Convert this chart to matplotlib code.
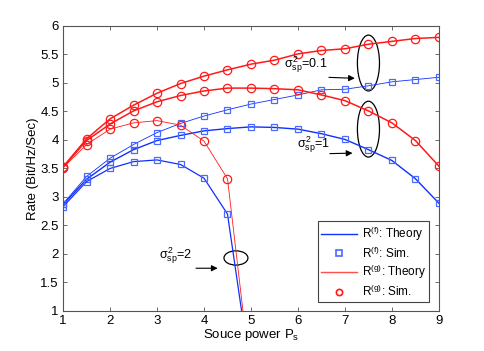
import numpy as np
import matplotlib
matplotlib.use('Agg')
import matplotlib.pyplot as plt
from matplotlib.patches import Ellipse

plt.rcParams['font.family'] = ['Liberation Sans', 'DejaVu Sans']
plt.rcParams['mathtext.fontset'] = 'custom'
plt.rcParams['mathtext.rm'] = 'Liberation Sans'
plt.rcParams['mathtext.it'] = 'Liberation Sans'

# source power axis
ps = [1, 1.5, 2, 2.5, 3, 3.5, 4, 4.5, 5, 5.5, 6, 6.5, 7, 7.5, 8, 8.5, 9]
ps_short = [1, 1.5, 2, 2.5, 3, 3.5, 4, 4.5, 5]

# R^(g) curves (red)
rg_01 = [3.53, 4.02, 4.37, 4.61, 4.82, 4.99, 5.12, 5.23, 5.33, 5.40, 5.51,
         5.57, 5.60, 5.68, 5.73, 5.78, 5.80]
rg_1 = [3.52, 3.99, 4.28, 4.51, 4.67, 4.78, 4.86, 4.91, 4.91, 4.90, 4.88,
        4.79, 4.69, 4.51, 4.30, 3.99, 3.54]
rg_2 = [3.51, 3.92, 4.19, 4.30, 4.34, 4.26, 3.98, 3.32, -0.2]

# R^(f) curves (blue)
rf_01 = [2.88, 3.36, 3.68, 3.92, 4.13, 4.29, 4.42, 4.53, 4.63, 4.71, 4.79,
         4.88, 4.89, 4.95, 5.02, 5.06, 5.10]
rf_1 = [2.87, 3.31, 3.61, 3.83, 3.99, 4.08, 4.16, 4.20, 4.23, 4.22, 4.19,
        4.11, 4.01, 3.83, 3.64, 3.32, 2.89]
rf_2 = [2.83, 3.27, 3.50, 3.62, 3.65, 3.57, 3.33, 2.70, -0.13]

blue = '#1030ff'
sq = '#4a6aff'
red = '#ff1a1a'

fig = plt.figure(figsize=(4.85, 3.51), dpi=100)
ax = fig.add_axes([0.13, 0.114, 0.775, 0.812])

for x, y, lw in [(ps, rf_01, 0.6), (ps, rf_1, 1.0), (ps_short, rf_2, 0.9)]:
    ax.plot(x, y, color=blue, lw=lw)
    ax.plot(x, y, 's', ms=4.5, mfc='none', mec=sq, mew=0.9)
for x, y, lw in [(ps, rg_01, 1.1), (ps, rg_1, 1.1), (ps_short, rg_2, 0.6)]:
    ax.plot(x, y, color=red, lw=lw)
    ax.plot(x, y, 'o', ms=6, mfc='none', mec=red, mew=0.9)

# legend proxies
ax.plot([], [], color=blue, lw=1.0, label=r'R$^{(f)}$: Theory')
ax.plot([], [], 's', ms=4, mfc='none', mec=sq, mew=1.2, label=r'R$^{(f)}$: Sim.')
ax.plot([], [], color='#ff5050', lw=1.0, label=r'R$^{(g)}$: Theory')
ax.plot([], [], 'o', ms=4.5, mfc='none', mec=red, mew=1.2, label=r'R$^{(g)}$: Sim.')
handles, labels = ax.get_legend_handles_labels()
leg = ax.legend(handles[-4:], labels[-4:], loc='lower right', fontsize=8.5,
                fancybox=False, edgecolor='#444444', framealpha=1,
                handlelength=3.0, handletextpad=0.4, borderpad=0.3,
                labelspacing=0.2, bbox_to_anchor=(0.99, 0.01))
leg.get_frame().set_linewidth(0.8)

# ellipses and labels
for cx, cy, w, h in [(7.5, 5.35, 0.47, 0.98), (7.5, 4.19, 0.47, 0.98),
                     (4.68, 1.93, 0.51, 0.25)]:
    ax.add_patch(Ellipse((cx, cy), w, h, fill=False, ec='black', lw=0.9))

arr = dict(arrowstyle='-|>', color='black', lw=0.8, mutation_scale=9)
ax.annotate('', xy=(7.27, 5.08), xytext=(6.6, 5.10), arrowprops=arr)
ax.annotate('', xy=(7.22, 3.77), xytext=(6.62, 3.76), arrowprops=arr)
ax.annotate('', xy=(4.35, 1.75), xytext=(3.77, 1.75), arrowprops=arr)
ax.text(5.7, 5.27, r'$\sigma^2_{sp}$=0.1', fontsize=9)
ax.text(5.98, 3.87, r'$\sigma^2_{sp}$=1', fontsize=9)
ax.text(3.04, 1.92, r'$\sigma^2_{sp}$=2', fontsize=9)

ax.set_xlim(1, 9)
ax.set_ylim(1, 6)
ax.set_xticks(range(1, 10))
ax.set_yticks([1, 1.5, 2, 2.5, 3, 3.5, 4, 4.5, 5, 5.5, 6])
ax.set_yticklabels(['1', '1.5', '2', '2.5', '3', '3.5', '4', '4.5', '5', '5.5', '6'])
ax.tick_params(direction='in', top=True, right=True, labelsize=9.5, length=3,
               width=0.6, color='#555555', pad=3)
for s in ax.spines.values():
    s.set_color('#555555')
    s.set_linewidth(0.8)
ax.set_xlabel(r'Souce power P$_s$', fontsize=9.5, labelpad=0)
ax.set_ylabel('Rate (Bit/Hz/Sec)', fontsize=9.5, labelpad=1)

fig.savefig('out.png', dpi=100)
